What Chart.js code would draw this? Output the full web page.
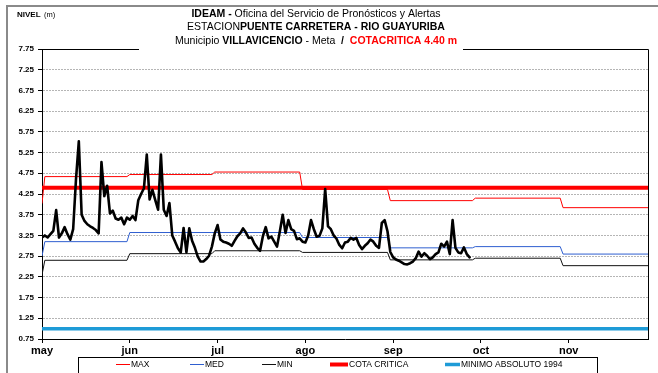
<!DOCTYPE html>
<html>
<head>
<meta charset="utf-8">
<title>Nivel Rio Guayuriba</title>
<script src="https://cdn.jsdelivr.net/npm/chart.js@4.4.0/dist/chart.umd.min.js"></script>
<style>
    html, body { margin: 0; padding: 0; background: #fff; }
    #nivel-chart { display: block; }
</style>
</head>
<body>
<canvas id="nivel-chart" width="658" height="373"></canvas>
<script>
// Month labels on the x axis, one tick every 31 days starting 1 may
const monthLabels = ['may', 'jun', 'jul', 'ago', 'sep', 'oct', 'nov'];
const monthTicks = [0, 31, 62, 93, 124, 155, 186];
// first day of each month (day 0 = 1 may), last entry closes november
const monthStarts = [0, 31, 61, 92, 123, 153, 184, 214];

const levelTicks = [0.75, 1.25, 1.75, 2.25, 2.75, 3.25, 3.75, 4.25, 4.75, 5.25, 5.75, 6.25, 6.75, 7.25, 7.75];

// Monthly historical levels (m)
const maxLevels = [4.67, 4.72, 4.78, 4.36, 4.09, 4.15, 3.92];
const medLevels = [3.10, 3.32, 3.32, 3.20, 2.95, 2.98, 2.80];
const minLevels = [2.65, 2.81, 2.88, 2.84, 2.66, 2.70, 2.52];
// value of each historical series on 1 may
const firstDayLevels = [4.02, 2.75, 2.30];

const cotaCritica = 4.40;
const minimoAbsoluto = 1.00;

// Daily level from 1 may
const dailyLevels = [
    3.20, 3.25, 3.20, 3.28, 3.36, 3.86, 3.20, 3.30, 3.45, 3.28,
    3.15, 3.40, 4.60, 5.52, 3.75, 3.60, 3.52, 3.47, 3.43, 3.38,
    3.30, 5.02, 4.20, 4.45, 3.78, 3.85, 3.66, 3.63, 3.68, 3.52,
    3.68, 3.63, 3.72, 3.62, 4.10, 4.25, 4.39, 5.20, 4.12, 4.35,
    4.10, 3.87, 5.20, 3.87, 3.72, 4.03, 3.25, 3.10, 2.94, 2.84,
    3.43, 2.84, 3.42, 3.12, 2.95, 2.74, 2.62, 2.62, 2.68, 2.76,
    2.98, 3.30, 3.50, 3.15, 3.10, 3.08, 3.05, 3.00, 3.12, 3.23,
    3.30, 3.42, 3.32, 3.19, 3.20, 3.05, 2.95, 2.88, 3.23, 3.45,
    3.18, 3.22, 3.10, 2.98, 3.35, 3.75, 3.31, 3.62, 3.40, 3.36,
    3.16, 3.18, 3.10, 3.08, 3.25, 3.62, 3.40, 3.22, 3.24, 3.42,
    4.37, 3.47, 3.40, 3.25, 3.17, 3.02, 2.94, 3.08, 3.10, 3.19,
    3.15, 3.19, 3.02, 2.92, 3.00, 3.06, 3.15, 3.10, 3.00, 2.95,
    3.55, 3.62, 3.35, 2.85, 2.72, 2.67, 2.64, 2.60, 2.56, 2.55,
    2.58, 2.62, 2.70, 2.86, 2.74, 2.82, 2.76, 2.68, 2.72, 2.80,
    2.84, 3.05, 2.98, 3.10, 2.80, 3.62, 2.95, 2.84, 2.82, 2.96,
    2.80, 2.72
];

const NARROW = '"Liberation Sans Narrow", "Arial Narrow", "Liberation Sans", Arial, sans-serif';
const SANS = '"Liberation Sans", Arial, sans-serif';

// monthly values -> flat segment per month, one-day ramp between months
function monthlySteps(levels, firstValue) {
    const pts = [{ x: 0, y: firstValue }];
    levels.forEach((v, i) => {
        pts.push({ x: Math.max(monthStarts[i], 1), y: v });
        pts.push({ x: monthStarts[i + 1] - 1, y: v });
    });
    pts[pts.length - 1].x = monthStarts[monthStarts.length - 1];
    return pts;
}

function flatLine(v) {
    return [{ x: 0, y: v }, { x: monthStarts[monthStarts.length - 1], y: v }];
}

const lineDefaults = { pointRadius: 0, pointHoverRadius: 0, tension: 0, fill: false };

// legend slots: dataset index, line start, line end (px)
const legendSlots = [[1, 116, 130], [2, 190, 204], [3, 262, 276], [4, 330, 348], [5, 445, 460]];

function drawRuns(ctx, cx, y, runs) {
    let total = 0;
    runs.forEach(r => {
        ctx.font = r.font;
        r.w = ctx.measureText(r.text).width;
        total += r.w;
    });
    let x = cx - total / 2;
    ctx.textAlign = 'left';
    ctx.textBaseline = 'middle';
    runs.forEach(r => {
        ctx.font = r.font;
        ctx.fillStyle = r.color || '#000';
        ctx.fillText(r.text, x, y);
        x += r.w;
    });
}

const decorPlugin = {
    id: 'decor',
    afterDraw(chart) {
        const { ctx, chartArea: a } = chart;
        ctx.save();

        // top and right border of the plot
        ctx.strokeStyle = '#000';
        ctx.lineWidth = 1;
        ctx.beginPath();
        ctx.moveTo(a.left, Math.round(a.top) + 0.5);
        ctx.lineTo(Math.round(a.right) + 0.5, Math.round(a.top) + 0.5);
        ctx.lineTo(Math.round(a.right) + 0.5, a.bottom);
        ctx.stroke();

        // outer frame
        ctx.strokeStyle = '#8a8a8a';
        ctx.lineWidth = 2;
        ctx.beginPath();
        ctx.moveTo(7, 373);
        ctx.lineTo(7, 6);
        ctx.lineTo(658, 6);
        ctx.stroke();

        // title block
        ctx.fillStyle = '#fff';
        ctx.fillRect(139, 8, 324, 44);
        const b = 'bold 10.5px ' + NARROW;
        const n = '10.5px ' + NARROW;
        drawRuns(ctx, 316, 14, [
            { text: 'IDEAM - ', font: b },
            { text: 'Oficina del Servicio de Pronósticos y Alertas', font: n }
        ]);
        drawRuns(ctx, 316, 27, [
            { text: 'ESTACION', font: n },
            { text: 'PUENTE CARRETERA - RIO GUAYURIBA', font: b }
        ]);
        drawRuns(ctx, 316, 41, [
            { text: 'Municipio ', font: n },
            { text: 'VILLAVICENCIO', font: b },
            { text: ' - Meta  ', font: n },
            { text: '/', font: b },
            { text: '  COTACRITICA ' + cotaCritica.toFixed(2) + ' m', font: b, color: '#ff0000' }
        ]);

        // axis caption
        ctx.textAlign = 'left';
        ctx.textBaseline = 'middle';
        ctx.fillStyle = '#000';
        ctx.font = 'bold 8px ' + SANS;
        ctx.fillText('NIVEL', 17, 15);
        ctx.font = '7.5px ' + SANS;
        ctx.fillText('(m)', 44, 15);

        // legend box
        ctx.strokeStyle = '#000';
        ctx.lineWidth = 1;
        ctx.strokeRect(78.5, 357.5, 519, 20);
        ctx.font = '8.5px ' + NARROW;
        legendSlots.forEach(([idx, x1, x2]) => {
            const ds = chart.data.datasets[idx];
            ctx.strokeStyle = ds.borderColor;
            ctx.lineWidth = ds.borderWidth;
            ctx.beginPath();
            ctx.moveTo(x1, 364.5);
            ctx.lineTo(x2, 364.5);
            ctx.stroke();
            ctx.fillStyle = '#000';
            ctx.fillText(ds.label, x2 + 1, 365);
        });

        ctx.restore();
    }
};

const ctx = document.getElementById('nivel-chart').getContext('2d');

new Chart(ctx, {
    type: 'line',
    data: {
        datasets: [
            {
                ...lineDefaults,
                label: 'NIVEL',
                data: dailyLevels.map((v, i) => ({ x: i, y: v })),
                borderColor: '#000000',
                borderWidth: 2.6,
                borderJoinStyle: 'round',
                borderCapStyle: 'round'
            },
            { ...lineDefaults, label: 'MAX', data: monthlySteps(maxLevels, firstDayLevels[0]), borderColor: '#ff0000', borderWidth: 1 },
            { ...lineDefaults, label: 'MED', data: monthlySteps(medLevels, firstDayLevels[1]), borderColor: '#2f5fd0', borderWidth: 1 },
            { ...lineDefaults, label: 'MIN', data: monthlySteps(minLevels, firstDayLevels[2]), borderColor: '#111111', borderWidth: 1 },
            { ...lineDefaults, label: 'COTA CRITICA', data: flatLine(cotaCritica), borderColor: '#ff0000', borderWidth: 4 },
            { ...lineDefaults, label: 'MINIMO ABSOLUTO 1994', data: flatLine(minimoAbsoluto), borderColor: '#1e9bd7', borderWidth: 3.5 }
        ]
    },
    options: {
        responsive: false,
        animation: false,
        events: [],
        layout: { padding: { left: 0, top: 49, right: 10, bottom: 0 } },
        plugins: {
            legend: { display: false },
            title: { display: false },
            tooltip: { enabled: false }
        },
        scales: {
            x: {
                type: 'linear',
                min: monthStarts[0],
                max: monthStarts[monthStarts.length - 1],
                afterFit: s => { s.height = 34; },
                afterBuildTicks: s => { s.ticks = monthTicks.map(v => ({ value: v })); },
                grid: {
                    drawOnChartArea: false,
                    drawTicks: true,
                    tickLength: 4,
                    tickColor: '#000',
                    color: '#000'
                },
                border: { color: '#000', width: 1 },
                ticks: {
                    maxRotation: 0,
                    autoSkip: false,
                    padding: 1,
                    color: '#000',
                    font: { family: SANS, size: 11, weight: 'bold' },
                    callback: v => monthLabels[monthTicks.indexOf(v)] || ''
                }
            },
            y: {
                min: levelTicks[0],
                max: levelTicks[levelTicks.length - 1],
                afterFit: s => { s.width = 42; },
                afterBuildTicks: s => { s.ticks = levelTicks.map(v => ({ value: v })); },
                grid: {
                    color: '#b5b5b5',
                    lineWidth: 1,
                    tickLength: 4,
                    tickColor: '#000',
                    tickBorderDash: []
                },
                border: { color: '#000', width: 1, dash: [2, 1] },
                ticks: {
                    padding: 4,
                    color: '#000',
                    font: { family: SANS, size: 8, weight: 'bold' },
                    callback: v => v.toFixed(2)
                }
            }
        }
    },
    plugins: [decorPlugin]
});
</script>
</body>
</html>
